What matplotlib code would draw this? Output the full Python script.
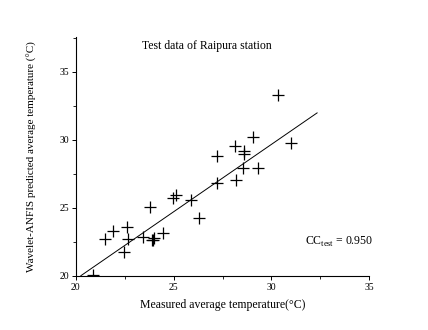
import numpy as np
import matplotlib
matplotlib.use("Agg")
import matplotlib.pyplot as plt
from matplotlib.ticker import MultipleLocator

plt.rcParams['font.family'] = ['Liberation Serif', 'DejaVu Serif']
plt.rcParams['mathtext.fontset'] = 'custom'
plt.rcParams['mathtext.rm'] = 'Liberation Serif'

# measured vs predicted
measured = [30.31, 31.0, 29.08, 28.15, 28.57, 28.6, 27.21, 28.54, 29.29, 27.24,
            28.2, 25.88, 24.99, 25.13, 26.29, 23.8, 24.48, 21.92, 21.5, 22.6,
            22.69, 22.47, 23.43, 23.9, 24.0, 23.95, 20.9]
predicted = [33.27, 29.8, 30.21, 29.57, 29.15, 28.97, 28.78, 27.92, 27.92, 26.86,
             27.06, 25.58, 25.71, 25.95, 24.23, 25.04, 23.17, 23.32, 22.68, 23.57,
             22.7, 21.72, 22.88, 22.6, 22.8, 22.65, 20.05]

# fitted line
fit_slope = 0.993
fit_icept = -0.118
fit_x = [20.26, 32.33]

fig = plt.figure(figsize=(4.28, 3.30), dpi=100)
ax = fig.add_axes([0.177, 0.1645, 0.686, 0.7245])

ax.plot(measured, predicted, linestyle='none', marker='+', color='black',
        markersize=9, markeredgewidth=0.9)
fx = np.array(fit_x)
ax.plot(fx, fit_slope * fx + fit_icept, color='black', linewidth=0.7)

ax.set_xlim(20, 35)
ax.set_ylim(20, 37.6)
ax.xaxis.set_major_locator(MultipleLocator(5))
ax.xaxis.set_minor_locator(MultipleLocator(2.5))
ax.yaxis.set_major_locator(MultipleLocator(5))
ax.yaxis.set_minor_locator(MultipleLocator(2.5))
ax.spines['top'].set_visible(False)
ax.spines['right'].set_visible(False)
for s in ('left', 'bottom'):
    ax.spines[s].set_linewidth(0.8)
ax.tick_params(which='major', direction='out', length=3, width=0.7,
               labelsize=7, pad=2)
ax.tick_params(which='minor', direction='out', length=2, width=0.6)

ax.text(26.7, 36.9, 'Test data of Raipura station', ha='center', va='center',
        fontsize=8.5)
ax.text(31.73, 22.5, r'CC$_{\mathrm{test}}$ = 0.950', ha='left', va='center',
        fontsize=8.5, clip_on=False)

ax.set_xlabel('Measured average temperature(°C)', fontsize=8.5, labelpad=5)
ax.set_ylabel('Wavelet-ANFIS predicted average temperature (°C)', fontsize=8,
              labelpad=16)

fig.savefig('out.png', dpi=100)
